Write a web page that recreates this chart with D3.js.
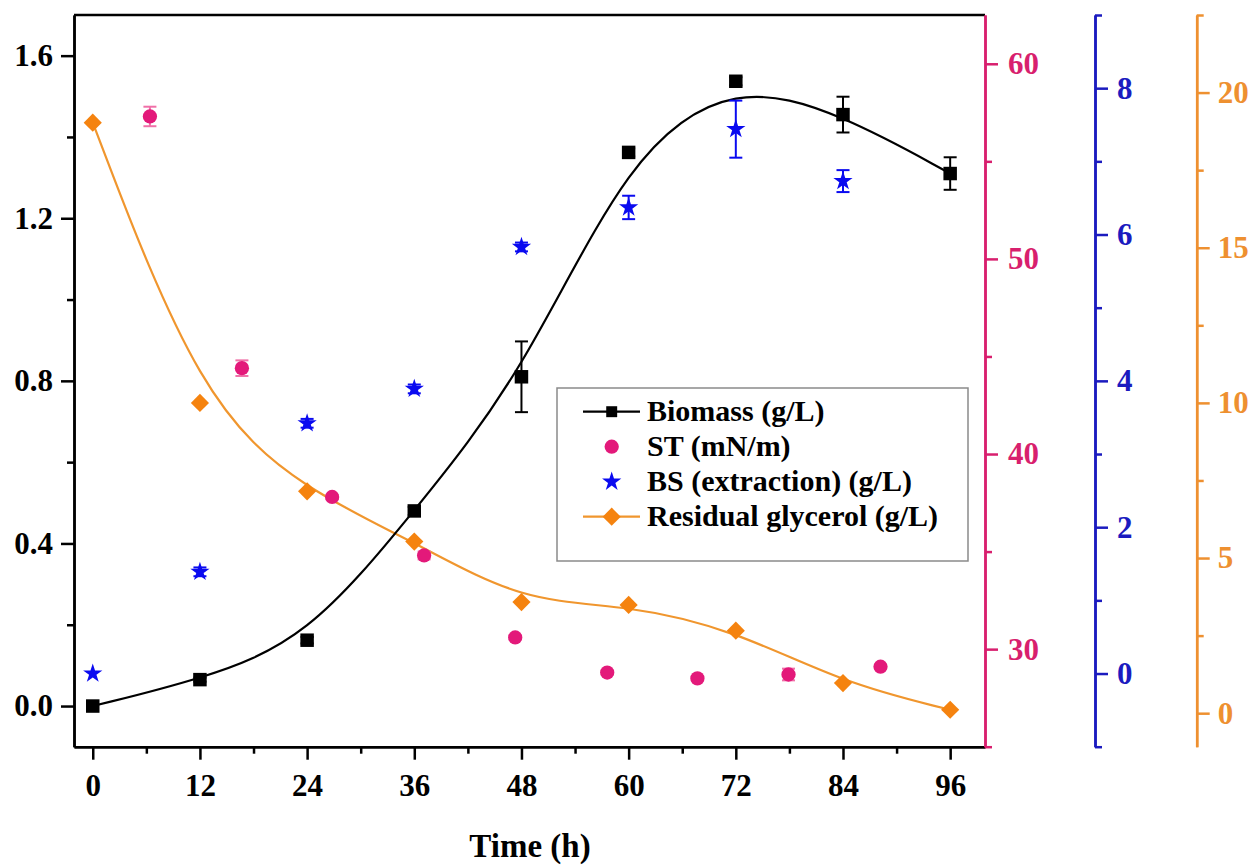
<!DOCTYPE html>
<html>
<head>
<meta charset="utf-8">
<script src="https://cdn.jsdelivr.net/npm/d3@7"></script>
<style>
  body { margin: 0; background: #fff; }
  svg { display: block; }
</style>
</head>
<body>
<svg width="1254" height="867"></svg>
<script>
// sampling times (h)
let timeHours = [0, 12, 24, 36, 48, 60, 72, 84, 96];
let biomass = [0, 0.065, 0.162, 0.48, 0.81, 1.362, 1.537, 1.455, 1.31];
let biomassErr = [0, 0.005, 0.008, 0.01, 0.087, 0.01, 0.01, 0.044, 0.04];

let bsTimes = [0, 12, 24, 36, 48, 60, 72, 84];
let bsValues = [0, 1.39, 3.42, 3.89, 5.83, 6.37, 7.44, 6.73];
let bsErr = [0, 0.06, 0.06, 0.06, 0.06, 0.16, 0.39, 0.15];

let stTimes = [6.4, 16.7, 26.8, 37.1, 47.3, 57.6, 67.7, 77.9, 88.2];
let stValues = [57.3, 44.4, 37.8, 34.8, 30.6, 28.8, 28.5, 28.7, 29.1];
let stErr = [0.5, 0.4, 0.1, 0.2, 0.1, 0.1, 0.1, 0.3, 0.1];

let glycerol = [19.03, 10.0, 7.15, 5.53, 3.58, 3.49, 2.66, 0.97, 0.11];

let xTicks = [0, 12, 24, 36, 48, 60, 72, 84, 96];
let xMinor = [6, 18, 30, 42, 54, 66, 78, 90];
let leftTicks = [0, 0.4, 0.8, 1.2, 1.6];
let leftMinor = [0.2, 0.6, 1.0, 1.4];
let stTicks = [30, 40, 50, 60];
let stMinor = [25, 35, 45, 55];
let bsTicks = [0, 2, 4, 6, 8];
let bsMinor = [-1, 1, 3, 5, 7, 9];
let glyTicks = [0, 5, 10, 15, 20];
let glyMinor = [2.5, 7.5, 12.5, 17.5, 22.5];

let legendLabels = ["Biomass (g/L)", "ST (mN/m)", "BS (extraction) (g/L)", "Residual glycerol (g/L)"];

const FONT = "'Liberation Serif', 'Times New Roman', serif";
const PINK = "#e3197a", PINK_AX = "#d81f6e", BLUE = "#0a0af0", BLUE_AX = "#1b1bbf",
      ORANGE = "#f5830f", ORANGE_LN = "#f0962e", ORANGE_AX = "#ee9030";

let svg = d3.select("svg").attr("font-family", FONT).attr("font-weight", "bold");
let plotTop = 15, plotBottom = 746.7, plotLeft = 74, plotRight = 985;

let x = d3.scaleLinear().domain([-2.1, 99.9]).range([plotLeft, plotRight]);
let y = d3.scaleLinear().domain([-0.1, 1.7]).range([plotBottom, plotTop]);
let yST = d3.scaleLinear().domain([25, 62.5]).range([plotBottom, plotTop]);
let yBS = d3.scaleLinear().domain([-1, 9]).range([plotBottom, plotTop]);
let yGly = d3.scaleLinear().domain([-1.08, 22.5]).range([plotBottom, plotTop]);

function styleAxis(g, color) {
  g.attr("font-family", FONT).attr("font-size", 31).attr("font-weight", "bold");
  g.selectAll("path.domain").attr("stroke", color).attr("stroke-width", 2.5);
  g.selectAll(".tick line").attr("stroke", color).attr("stroke-width", 2.5);
  g.selectAll("text").attr("fill", color);
}

function drawAxis(axisFn, scale, ticks, minor, transform, color, pad, fmt) {
  let gm = svg.append("g").attr("transform", transform)
    .call(axisFn(scale).tickValues(minor).tickSize(7).tickSizeOuter(0).tickFormat(""));
  styleAxis(gm, color);
  let g = svg.append("g").attr("transform", transform)
    .call(axisFn(scale).tickValues(ticks).tickSize(13).tickSizeOuter(0).tickPadding(pad).tickFormat(fmt));
  styleAxis(g, color);
  return g;
}

// top frame line
svg.append("line").attr("x1", plotLeft).attr("x2", plotRight).attr("y1", plotTop).attr("y2", plotTop)
  .attr("stroke", "#000").attr("stroke-width", 2.5);

drawAxis(d3.axisBottom, x, xTicks, xMinor, "translate(0," + plotBottom + ")", "#000", 14, d3.format("d"));
drawAxis(d3.axisLeft, y, leftTicks, leftMinor, "translate(" + plotLeft + ",0)", "#000", 8, d3.format(".1f"));
drawAxis(d3.axisRight, yST, stTicks, stMinor, "translate(" + plotRight + ",0)", PINK_AX, 10, d3.format("d"));
drawAxis(d3.axisRight, yBS, bsTicks, bsMinor, "translate(1095,0)", BLUE_AX, 9, d3.format("d"));
drawAxis(d3.axisRight, yGly, glyTicks, glyMinor, "translate(1196.7,0)", ORANGE_AX, 8, d3.format("d"));

svg.append("text").attr("x", 530).attr("y", 857).attr("text-anchor", "middle")
  .attr("font-size", 33).text("Time (h)");

// curves
let glyLine = d3.line().curve(d3.curveBasis).x((d, i) => x(timeHours[i])).y(d => yGly(d));
svg.append("path").datum(glycerol).attr("d", glyLine).attr("fill", "none")
  .attr("stroke", ORANGE_LN).attr("stroke-width", 2.2);

let bioLine = d3.line().curve(d3.curveBasis).x((d, i) => x(timeHours[i])).y(d => y(d));
svg.append("path").datum(biomass).attr("d", bioLine).attr("fill", "none")
  .attr("stroke", "#000").attr("stroke-width", 2.2);

function errorBars(xs, vals, errs, scale, color) {
  let g = svg.append("g").attr("stroke", color).attr("stroke-width", 2);
  vals.forEach((v, i) => {
    if (!errs[i]) return;
    let cx = x(xs[i]), y1 = scale(v - errs[i]), y2 = scale(v + errs[i]);
    g.append("line").attr("x1", cx).attr("x2", cx).attr("y1", y1).attr("y2", y2);
    g.append("line").attr("x1", cx - 6.5).attr("x2", cx + 6.5).attr("y1", y1).attr("y2", y1);
    g.append("line").attr("x1", cx - 6.5).attr("x2", cx + 6.5).attr("y1", y2).attr("y2", y2);
  });
}

errorBars(stTimes, stValues, stErr, yST, "#f070a8");
errorBars(bsTimes, bsValues, bsErr, yBS, BLUE);
errorBars(timeHours, biomass, biomassErr, y, "#000");

let sq = d3.symbol().type(d3.symbolSquare).size(182);
let circ = d3.symbol().type(d3.symbolCircle).size(160);
let star = d3.symbol().type(d3.symbolStar).size(115);
let dia = d3.symbol().type(d3.symbolSquare).size(165);

svg.append("g").selectAll("path").data(glycerol).enter().append("path")
  .attr("d", dia).attr("fill", ORANGE)
  .attr("transform", (d, i) => "translate(" + x(timeHours[i]) + "," + yGly(d) + ") rotate(45)");

svg.append("g").selectAll("path").data(stValues).enter().append("path")
  .attr("d", circ).attr("fill", PINK)
  .attr("transform", (d, i) => "translate(" + x(stTimes[i]) + "," + yST(d) + ")");

svg.append("g").selectAll("path").data(bsValues).enter().append("path")
  .attr("d", star).attr("fill", BLUE)
  .attr("transform", (d, i) => "translate(" + x(bsTimes[i]) + "," + yBS(d) + ")");

svg.append("g").selectAll("path").data(biomass).enter().append("path")
  .attr("d", sq).attr("fill", "#000")
  .attr("transform", (d, i) => "translate(" + x(timeHours[i]) + "," + y(d) + ")");

// legend
let lg = svg.append("g");
lg.append("rect").attr("x", 557).attr("y", 388).attr("width", 411).attr("height", 173)
  .attr("fill", "#fff").attr("stroke", "#8a8a8a").attr("stroke-width", 1.5);

let rowY = [411.7, 446.7, 481.7, 516.7];
let symX = 611.7;
lg.append("line").attr("x1", 583).attr("x2", 640).attr("y1", rowY[0]).attr("y2", rowY[0])
  .attr("stroke", "#000").attr("stroke-width", 2.2);
lg.append("path").attr("d", d3.symbol().type(d3.symbolSquare).size(120))
  .attr("transform", "translate(" + symX + "," + rowY[0] + ")").attr("fill", "#000");
lg.append("path").attr("d", circ).attr("fill", PINK)
  .attr("transform", "translate(" + symX + "," + rowY[1] + ")");
lg.append("path").attr("d", star).attr("fill", BLUE)
  .attr("transform", "translate(" + symX + "," + rowY[2] + ")");
lg.append("line").attr("x1", 583).attr("x2", 640).attr("y1", rowY[3]).attr("y2", rowY[3])
  .attr("stroke", ORANGE_LN).attr("stroke-width", 2.2);
lg.append("path").attr("d", dia).attr("fill", ORANGE)
  .attr("transform", "translate(" + symX + "," + rowY[3] + ") rotate(45)");

lg.selectAll("text.lbl").data(legendLabels).enter().append("text")
  .attr("class", "lbl").attr("x", 647).attr("y", (d, i) => rowY[i] + 9.5)
  .attr("font-size", 30).text(d => d);
</script>
</body>
</html>
